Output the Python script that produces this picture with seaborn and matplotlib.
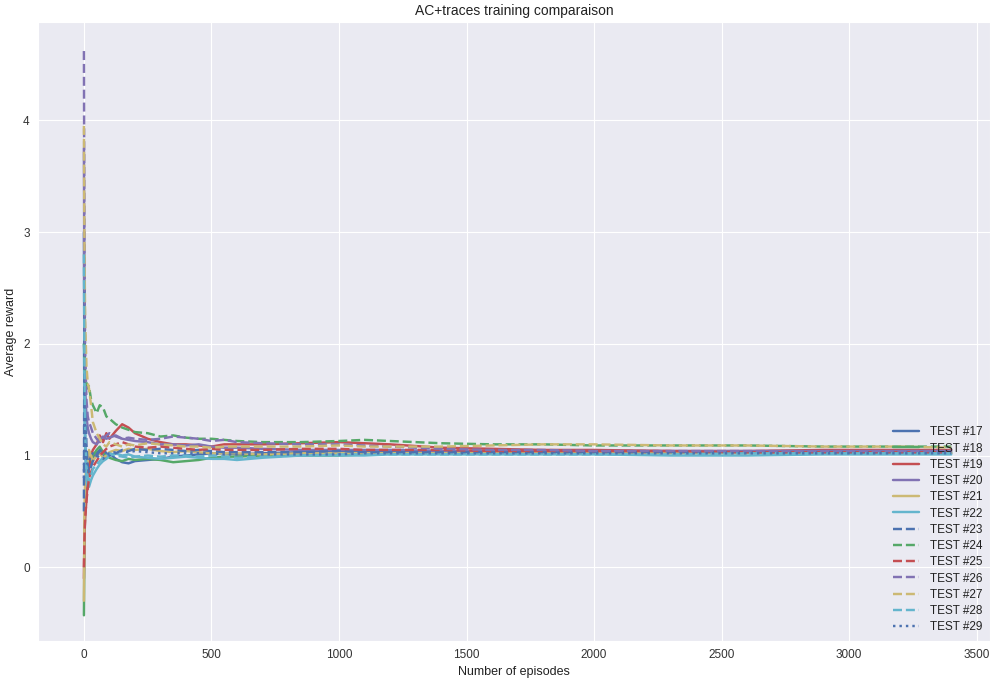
import matplotlib
matplotlib.use("Agg")
import matplotlib.pyplot as plt
import seaborn as sns

sns.set_style("darkgrid")
plt.rcParams["font.family"] = ["Liberation Sans", "DejaVu Sans"]

# Episode checkpoints at which the running average reward was logged
episodes = [0, 2, 5, 10, 15, 20, 28, 35, 50, 62, 75, 88, 100, 125, 150, 175,
            200, 250, 300, 350, 400, 450, 500, 550, 600, 700, 850, 1000,
            1100, 1200, 1400, 1600, 1800, 2000, 2300, 2600, 2900, 3200, 3400]

test_17 = [3.0, 1.6, 1.1, 0.85, 0.9, 0.95, 1.0, 0.98,
           1.02, 1.05, 1.0, 0.98, 1.02,
           0.97, 0.94, 0.93, 0.95,
           0.96, 0.97, 0.99, 1.0, 1.01, 1.02, 1.02, 1.01,
           1.02, 1.03, 1.04, 1.04, 1.04,
           1.04, 1.03, 1.03, 1.03,
           1.03, 1.03, 1.03, 1.02, 1.02]
test_18 = [-0.43, 0.2, 0.55, 0.75, 0.85, 0.9, 0.95, 1.0,
           1.05, 1.08, 1.03, 1.0, 0.98,
           0.96, 0.95, 0.97, 0.96,
           0.97, 0.96, 0.94, 0.95, 0.96, 0.98, 0.99, 0.99,
           1.0, 1.0, 1.0, 1.01, 1.02,
           1.02, 1.02, 1.02, 1.03,
           1.03, 1.03, 1.03, 1.03, 1.03]
test_19 = [-0.1, 0.3, 0.45, 0.6, 0.8, 0.9, 1.0, 1.05,
           1.1, 1.18, 1.12, 1.2, 1.15,
           1.22, 1.28, 1.25, 1.2,
           1.15, 1.12, 1.1, 1.1, 1.09, 1.08, 1.1, 1.1,
           1.1, 1.11, 1.12, 1.11, 1.1,
           1.07, 1.06, 1.05, 1.05,
           1.04, 1.04, 1.05, 1.05, 1.05]
test_20 = [3.75, 2.2, 1.6, 1.35, 1.25, 1.2, 1.15, 1.12,
           1.1, 1.14, 1.17, 1.15, 1.16,
           1.18, 1.15, 1.14, 1.13,
           1.12, 1.1, 1.1, 1.09, 1.1, 1.08, 1.07, 1.07,
           1.06, 1.05, 1.05, 1.05, 1.05,
           1.04, 1.04, 1.04, 1.04,
           1.04, 1.04, 1.04, 1.04, 1.04]
test_21 = [-0.3, 0.5, 0.8, 0.9, 0.95, 1.05, 1.0, 0.95,
           1.0, 1.02, 0.98, 1.0, 1.03,
           1.05, 1.04, 1.06, 1.05,
           1.06, 1.04, 1.03, 1.04, 1.03, 1.02, 1.02, 1.02,
           1.01, 1.02, 1.02, 1.02, 1.02,
           1.02, 1.02, 1.02, 1.02,
           1.02, 1.02, 1.02, 1.02, 1.02]
test_22 = [2.0, 1.5, 1.0, 0.78, 0.72, 0.72, 0.78, 0.82,
           0.88, 0.92, 0.95, 0.97, 1.0,
           1.02, 1.0, 1.01, 0.99,
           0.98, 0.97, 0.98, 0.99, 0.98, 0.97, 0.97, 0.96,
           0.98, 1.0, 1.0, 1.0, 1.01,
           1.01, 1.01, 1.01, 1.01,
           1.0, 1.0, 1.01, 1.01, 1.01]
test_23 = [0.5, 2.5, 1.5, 1.1, 0.9, 0.85, 0.9, 0.95,
           1.0, 1.04, 1.06, 1.02, 1.0,
           1.02, 1.05, 1.04, 1.06,
           1.05, 1.06, 1.05, 1.04, 1.05, 1.04, 1.03, 1.03,
           1.03, 1.03, 1.04, 1.03, 1.03,
           1.03, 1.03, 1.03, 1.03,
           1.03, 1.03, 1.03, 1.03, 1.03]
test_24 = [2.0, 1.9, 1.7, 1.65, 1.6, 1.62, 1.5, 1.45,
           1.38, 1.45, 1.43, 1.35, 1.33,
           1.28, 1.25, 1.23, 1.21,
           1.2, 1.17, 1.18, 1.16, 1.15, 1.15, 1.14, 1.13,
           1.12, 1.12, 1.13, 1.14, 1.13,
           1.11, 1.1, 1.1, 1.09,
           1.09, 1.09, 1.08, 1.08, 1.08]
test_25 = [0.0, 0.25, 0.45, 0.6, 0.7, 0.8, 0.85, 0.9,
           0.95, 1.0, 1.03, 1.06, 1.08,
           1.1, 1.12, 1.1, 1.08,
           1.07, 1.08, 1.07, 1.06, 1.05, 1.06, 1.05, 1.05,
           1.05, 1.06, 1.06, 1.05, 1.05,
           1.05, 1.04, 1.04, 1.04,
           1.04, 1.03, 1.03, 1.03, 1.03]
test_26 = [4.62, 2.8, 1.9, 1.5, 1.35, 1.3, 1.25, 1.2,
           1.15, 1.12, 1.14, 1.18, 1.2,
           1.17, 1.15, 1.16, 1.15,
           1.14, 1.15, 1.17, 1.16, 1.15, 1.13, 1.14, 1.12,
           1.11, 1.1, 1.1, 1.09, 1.08,
           1.06, 1.05, 1.05, 1.04,
           1.04, 1.04, 1.04, 1.04, 1.04]
test_27 = [3.95, 2.9, 2.2, 1.8, 1.65, 1.6, 1.45, 1.3,
           1.2, 1.15, 1.1, 1.08, 1.12,
           1.1, 1.08, 1.1, 1.09,
           1.11, 1.1, 1.09, 1.08, 1.08, 1.07, 1.08, 1.08,
           1.08, 1.08, 1.09, 1.08, 1.08,
           1.08, 1.09, 1.1, 1.1,
           1.09, 1.09, 1.08, 1.08, 1.07]
test_28 = [2.8, 1.8, 1.2, 0.9, 0.8, 0.78, 0.82, 0.88,
           0.92, 0.95, 0.98, 1.0, 1.02,
           1.0, 0.99, 0.98, 0.99,
           1.0, 0.99, 1.0, 1.0, 0.99, 1.0, 0.99, 0.98,
           0.99, 1.0, 1.01, 1.01, 1.01,
           1.01, 1.01, 1.01, 1.01,
           1.01, 1.02, 1.02, 1.02, 1.02]
test_29 = [0.8, 1.3, 1.1, 0.95, 0.92, 0.95, 1.0, 1.02,
           1.0, 0.98, 0.97, 1.0, 1.02,
           1.03, 1.04, 1.03, 1.04,
           1.03, 1.02, 1.02, 1.02, 1.02, 1.02, 1.01, 1.01,
           1.01, 1.01, 1.01, 1.02, 1.02,
           1.02, 1.02, 1.02, 1.02,
           1.02, 1.02, 1.02, 1.02, 1.02]

labels = [f"TEST #{n}" for n in range(17, 30)]
series = [test_17, test_18, test_19, test_20, test_21, test_22, test_23,
          test_24, test_25, test_26, test_27, test_28, test_29]

palette = sns.color_palette("deep6")
styles = ["-"] * 6 + ["--"] * 6 + [":"]

fig, ax = plt.subplots(figsize=(9.9, 6.81), dpi=100)
fig.subplots_adjust(left=38 / 990, right=1.0, top=1 - 22 / 681,
                    bottom=1 - 641 / 681)

for i, (vals, lab) in enumerate(zip(series, labels)):
    sns.lineplot(x=episodes, y=vals, ax=ax, color=palette[i % 6],
                 linestyle=styles[i], linewidth=1.75, label=lab)

ax.set_xlim(-180, 3552)
ax.set_ylim(-0.66, 4.88)
ax.set_xticks([0, 500, 1000, 1500, 2000, 2500, 3000, 3500])
ax.set_yticks([0, 1, 2, 3, 4])
ax.tick_params(labelsize=8.5, colors="#333333", length=0, pad=6)
ax.set_title("AC+traces training comparaison", fontsize=10, color="#222222",
             pad=5)
ax.set_xlabel("Number of episodes", fontsize=9, color="#222222", labelpad=3)
ax.set_ylabel("Average reward", fontsize=9, color="#222222", labelpad=4)

leg = ax.legend(loc="lower right", frameon=False, fontsize=8.5,
                handlelength=2.2, handletextpad=0.9, labelspacing=0.36,
                borderaxespad=0.25)
for t in leg.get_texts():
    t.set_color("#222222")

fig.savefig("out.png", dpi=100)
